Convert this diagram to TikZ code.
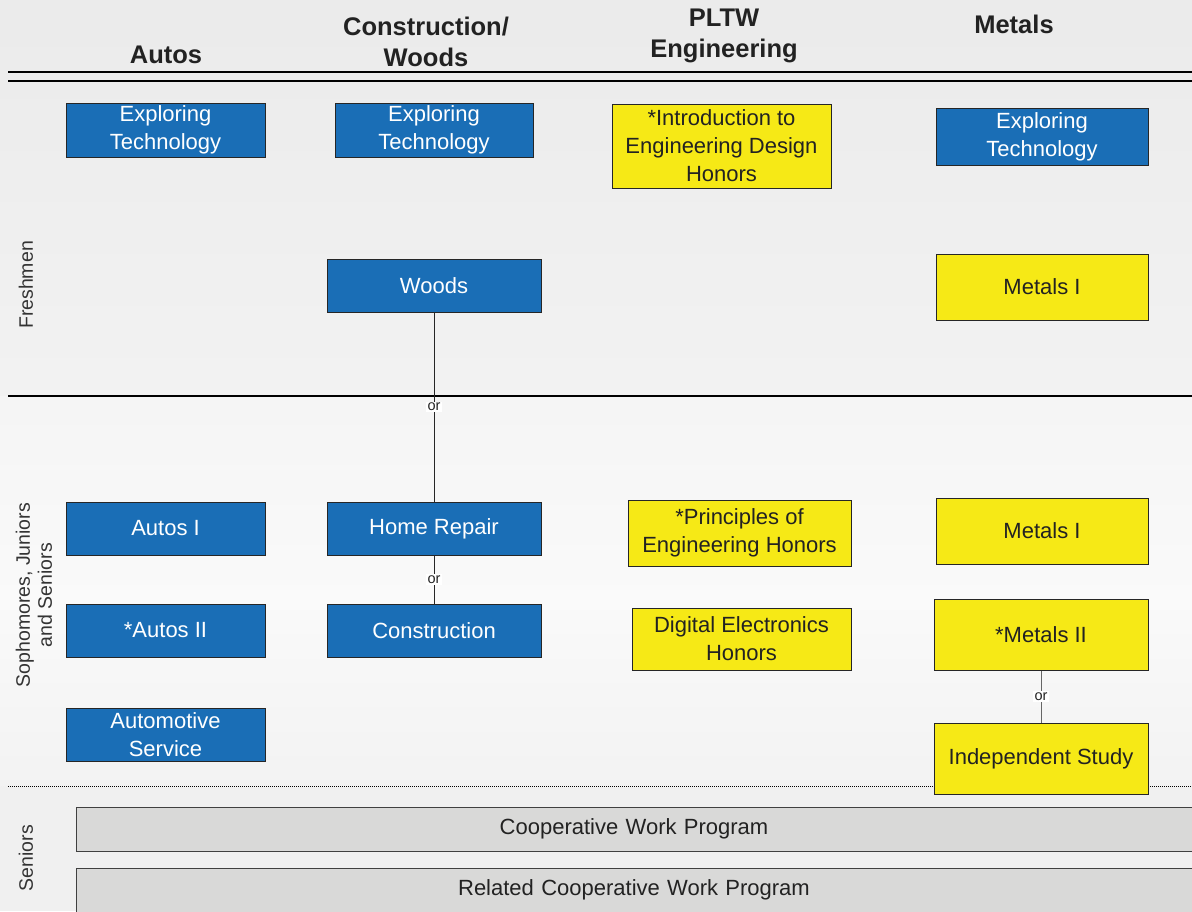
\documentclass[tikz,border=0pt]{standalone}
\usepackage{fontspec}
\setmainfont{Liberation Sans}
\definecolor{boxblue}{HTML}{1A6EB6}
\definecolor{boxyellow}{HTML}{F6E916}
\definecolor{bargray}{HTML}{D9D9D8}
\definecolor{txtdark}{HTML}{222222}
\begin{document}
\begin{tikzpicture}[x=1pt,y=-1pt,
  base/.style={draw=black!85, line width=1pt, align=center, inner sep=0pt,
    font=\fontsize{22}{28}\selectfont},
  bluebox/.style={base, fill=boxblue, text=white},
  yellowbox/.style={base, fill=boxyellow, text=txtdark},
  graybar/.style={base, fill=bargray, text=txtdark, draw=black!75},
  header/.style={font=\fontsize{25.5}{31}\bfseries\selectfont, align=center, text=txtdark},
  sidelab/.style={font=\fontsize{19.5}{22}\selectfont, align=center, text=black!80, rotate=90},
  orlab/.style={font=\fontsize{14.5}{16}\selectfont, fill=white, inner sep=1.5pt, text=txtdark},
  conn/.style={draw=black!85, line width=1pt}]
\useasboundingbox (0,0) rectangle (1192,911);
% background
\shade[top color=black!8, bottom color=black!5] (0,0) rectangle (1192,396);
\shade[top color=black!4, bottom color=black!2] (0,396) rectangle (1192,600);
\shade[top color=black!2, bottom color=black!5] (0,600) rectangle (1192,786);
\fill[black!6] (0,786) rectangle (1192,911);
% headers
\node[header] (hA) at (166,55) {Autos};
\node[header] (hC) at (426,42) {Construction/\\Woods};
\node[header] (hP) at (724,36) {PLTW\\Engineering};
\node[header] (hM) at (1014,24) {Metals};
% rules
\draw[line width=2pt] (8,72) -- (1192,72);
\draw[line width=2pt] (8,81) -- (1192,81);
\draw[line width=2pt] (8,396) -- (1192,396);
\draw[densely dotted, line width=1pt] (8,786) -- (1192,786);
% side labels
\node[sidelab] (sF) at (26,285) {Freshmen};
\node[sidelab] (sS) at (34,595) {Sophomores, Juniors\\and Seniors};
\node[sidelab] (sN) at (26,858) {Seniors};
% Autos
\node[bluebox, minimum width=199pt, minimum height=54pt] (a1) at (165.5,130) {Exploring\\Technology};
\node[bluebox, minimum width=199pt, minimum height=53pt] (a2) at (165.5,528.5) {Autos I};
\node[bluebox, minimum width=199pt, minimum height=53pt] (a3) at (165.5,630.5) {*Autos II};
\node[bluebox, minimum width=199pt, minimum height=53pt] (a4) at (165.5,734.5) {Automotive\\Service};
% Construction
\node[bluebox, minimum width=198pt, minimum height=54pt] (c1) at (434,130) {Exploring\\Technology};
\node[bluebox, minimum width=214pt, minimum height=53pt] (c2) at (434,285.5) {Woods};
\node[bluebox, minimum width=214pt, minimum height=53pt] (c3) at (434,528.5) {Home Repair};
\node[bluebox, minimum width=214pt, minimum height=53pt] (c4) at (434,630.5) {Construction};
% PLTW
\node[yellowbox, minimum width=219pt, minimum height=84pt] (p1) at (721.5,146) {*Introduction to\\Engineering Design\\Honors};
\node[yellowbox, minimum width=223pt, minimum height=66pt] (p2) at (739.5,533) {*Principles of\\Engineering Honors};
\node[yellowbox, minimum width=219pt, minimum height=62pt] (p3) at (741.5,639) {Digital Electronics\\Honors};
% Metals
\node[bluebox, minimum width=212pt, minimum height=57pt] (m1) at (1042,136.5) {Exploring\\Technology};
\node[yellowbox, minimum width=212pt, minimum height=66pt] (m2) at (1042,287) {Metals I};
\node[yellowbox, minimum width=212pt, minimum height=66pt] (m3) at (1042,531) {Metals I};
\node[yellowbox, minimum width=214pt, minimum height=71pt] (m4) at (1041,634.5) {*Metals II};
\node[yellowbox, minimum width=214pt, minimum height=71pt] (m5) at (1041,758.5) {Independent Study};
% Seniors bars
\node[graybar, minimum width=1120pt, minimum height=44pt, text width=1120pt] (b1) at (636,829) {\hspace*{-4pt}Cooperative Work Program};
\node[graybar, minimum width=1120pt, minimum height=44pt, text width=1120pt] (b2) at (636,890) {\hspace*{-4pt}Related Cooperative Work Program};
% connectors
\draw[conn] (c2.south) -- node[orlab] {or} (c3.north);
\draw[conn] (c3.south) -- node[orlab] {or} (c4.north);
\draw[conn, draw=black!60] (m4.south) -- node[orlab] {or} (m5.north);
\end{tikzpicture}
\end{document}
